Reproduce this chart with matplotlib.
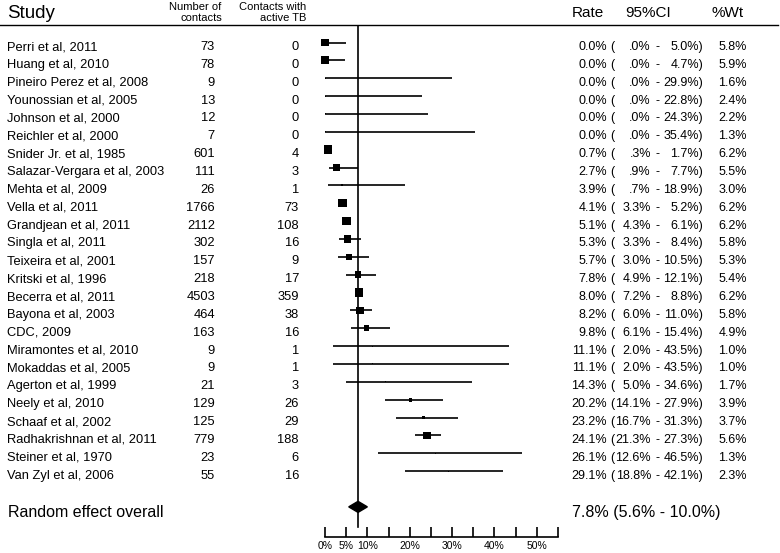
import matplotlib
matplotlib.use("Agg")
import matplotlib.pyplot as plt
import numpy as np

studies = ["Perri et al, 2011", "Huang et al, 2010", "Pineiro Perez et al, 2008",
           "Younossian et al, 2005", "Johnson et al, 2000", "Reichler et al, 2000",
           "Snider Jr. et al, 1985", "Salazar-Vergara et al, 2003", "Mehta et al, 2009",
           "Vella et al, 2011", "Grandjean et al, 2011", "Singla et al, 2011",
           "Teixeira et al, 2001", "Kritski et al, 1996", "Becerra et al, 2011",
           "Bayona et al, 2003", "CDC, 2009", "Miramontes et al, 2010",
           "Mokaddas et al, 2005", "Agerton et al, 1999", "Neely et al, 2010",
           "Schaaf et al, 2002", "Radhakrishnan et al, 2011", "Steiner et al, 1970",
           "Van Zyl et al, 2006"]
n_contacts = [73, 78, 9, 13, 12, 7, 601, 111, 26, 1766, 2112, 302, 157, 218, 4503,
              464, 163, 9, 9, 21, 129, 125, 779, 23, 55]
n_tb = [0, 0, 0, 0, 0, 0, 4, 3, 1, 73, 108, 16, 9, 17, 359, 38, 16, 1, 1, 3, 26, 29,
        188, 6, 16]
rate = [0.0, 0.0, 0.0, 0.0, 0.0, 0.0, 0.7, 2.7, 3.9, 4.1, 5.1, 5.3, 5.7, 7.8, 8.0, 8.2,
        9.8, 11.1, 11.1, 14.3, 20.2, 23.2, 24.1, 26.1, 29.1]
ci_lo = [0.0, 0.0, 0.0, 0.0, 0.0, 0.0, 0.3, 0.9, 0.7, 3.3, 4.3, 3.3, 3.0, 4.9, 7.2, 6.0,
         6.1, 2.0, 2.0, 5.0, 14.1, 16.7, 21.3, 12.6, 18.8]
ci_hi = [5.0, 4.7, 29.9, 22.8, 24.3, 35.4, 1.7, 7.7, 18.9, 5.2, 6.1, 8.4, 10.5, 12.1,
         8.8, 11.0, 15.4, 43.5, 43.5, 34.6, 27.9, 31.3, 27.3, 46.5, 42.1]
weight = [5.8, 5.9, 1.6, 2.4, 2.2, 1.3, 6.2, 5.5, 3.0, 6.2, 6.2, 5.8, 5.3, 5.4, 6.2, 5.8,
          4.9, 1.0, 1.0, 1.7, 3.9, 3.7, 5.6, 1.3, 2.3]
overall = (7.8, 5.6, 10.0)
xticks = [0, 5, 10, 15, 20, 25, 30, 35, 40, 45, 50, 55]
xticklabels = ["0%", "5%", "10%", "", "20%", "", "30%", "", "40%", "", "50%", ""]

FONT = "Liberation Sans"
W, H = 780, 553
# pixel layout
ROW0 = 42.5      # mark centre of first row
DY = 17.86       # row spacing
TOP, BASE = 25, 537
X0, X55 = 325, 558
n = len(studies)
overall_row = 26.0


def pct(v, strip=False):
    s = "%.1f" % v
    if strip and v < 1:
        s = s.lstrip("0")
    return s + "%"


fig = plt.figure(figsize=(W / 100, H / 100), dpi=100)

# text layer in pixel coordinates
ax_t = fig.add_axes([0, 0, 1, 1])
ax_t.set_xlim(0, W)
ax_t.set_ylim(H, 0)
ax_t.axis("off")

# forest layer
ax = fig.add_axes([X0 / W, (H - BASE) / H, (X55 - X0) / W, (BASE - TOP) / H])
ax.patch.set_alpha(0)
ax.set_xlim(0, 55)
ax.set_ylim((BASE - ROW0) / DY, (TOP - ROW0) / DY)

# header
ax_t.text(7, 18, "Study", fontsize=13.5, family=FONT, va="baseline")
ax_t.text(221, 10, "Number of", fontsize=8, family=FONT, ha="right", va="baseline")
ax_t.text(222, 21, "contacts", fontsize=8, family=FONT, ha="right", va="baseline")
ax_t.text(306, 10, "Contacts with", fontsize=8, family=FONT, ha="right", va="baseline")
ax_t.text(306, 21, "active TB", fontsize=8, family=FONT, ha="right", va="baseline")
ax_t.text(572, 17, "Rate", fontsize=11, family=FONT, va="baseline")
ax_t.text(625, 17, "95%CI", fontsize=11, family=FONT, va="baseline")
ax_t.text(712, 17, "%Wt", fontsize=11, family=FONT, va="baseline")
ax_t.plot([0, 778], [TOP, TOP], color="black", lw=1)

fs = 9.3
for i in range(n):
    yb = ROW0 + 7.5 + i * DY
    ax_t.text(7, yb, studies[i], fontsize=fs, family=FONT, va="baseline")
    ax_t.text(215, yb, str(n_contacts[i]), fontsize=fs, family=FONT, ha="right", va="baseline")
    ax_t.text(299, yb, str(n_tb[i]), fontsize=fs, family=FONT, ha="right", va="baseline")
    ax_t.text(607, yb, pct(rate[i]), fontsize=9, family=FONT, ha="right", va="baseline")
    ax_t.text(610, yb, "(", fontsize=9, family=FONT, va="baseline")
    ax_t.text(651, yb, pct(ci_lo[i], True), fontsize=9, family=FONT, ha="right", va="baseline")
    ax_t.text(658, yb, "-", fontsize=9, family=FONT, ha="center", va="baseline")
    ax_t.text(703, yb, pct(ci_hi[i]) + ")", fontsize=9, family=FONT, ha="right", va="baseline")
    ax_t.text(747, yb, pct(weight[i]), fontsize=9, family=FONT, ha="right", va="baseline")

yb = ROW0 + overall_row * DY + 10
ax_t.text(8, yb, "Random effect overall", fontsize=11.5, family=FONT, va="baseline")
ax_t.text(572, yb, "%s (%s - %s)" % (pct(overall[0]), pct(overall[1]), pct(overall[2])),
          fontsize=11.5, family=FONT, va="baseline")

# confidence intervals and weighted boxes
rows = np.arange(n)
ax.hlines(rows, ci_lo, ci_hi, color="black", lw=1.2, clip_on=False)
side_px = np.maximum(1.0, 2.0 * (np.array(weight) - 2.0))
ax.scatter(rate, rows, marker="s", s=(side_px * 0.72) ** 2, color="black",
           linewidths=0, clip_on=False, zorder=3)

# overall diamond and reference line
r, lo, hi = overall
h = 0.31
ax.fill([lo, r, hi, r], [overall_row, overall_row - h, overall_row, overall_row + h],
        color="black", clip_on=False, zorder=3)
ax.axvline(r, ymin=0.02, color="black", lw=1.2)

for s in ["top", "right", "left"]:
    ax.spines[s].set_visible(False)
ax.spines["bottom"].set_linewidth(1.2)
ax.set_yticks([])
ax.set_xticks(xticks)
ax.set_xticklabels(xticklabels, fontsize=7.5, family=FONT)
ax.tick_params(axis="x", direction="in", length=7.5, width=1.2, pad=3.0)

fig.savefig("out.png", dpi=100)
